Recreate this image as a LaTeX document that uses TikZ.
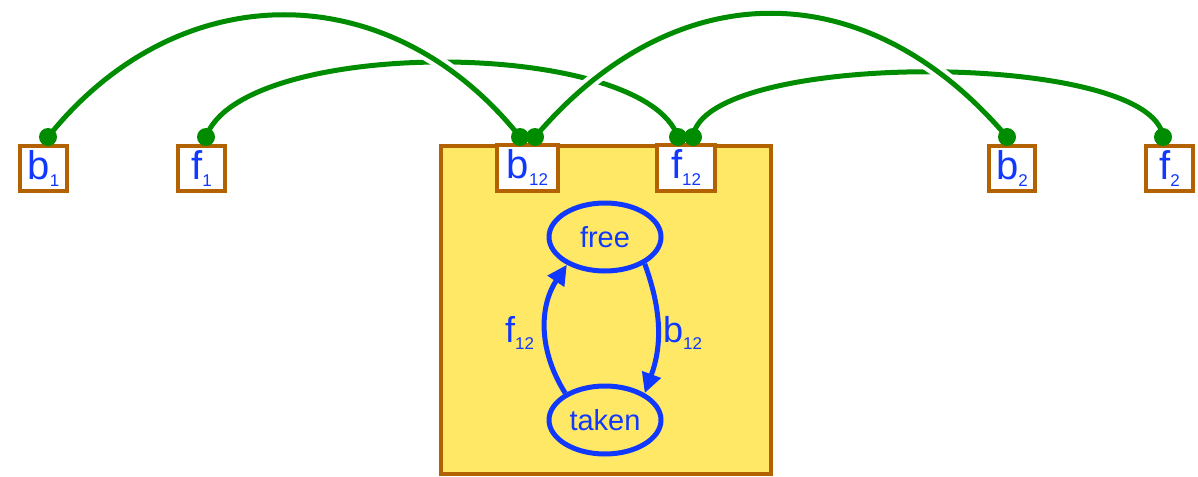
\documentclass[tikz,border=0pt]{standalone}
\usepackage{fontspec}
\setmainfont{Liberation Sans}
\usetikzlibrary{arrows.meta,shapes.geometric}
\definecolor{brn}{RGB}{178,98,0}
\definecolor{yel}{RGB}{255,232,102}
\definecolor{grn}{RGB}{0,140,0}
\definecolor{blu}{RGB}{16,56,255}
\newcommand{\mylbl}[3]{{\fontsize{#1}{#1}\selectfont #2}\raisebox{-7pt}{\fontsize{17}{17}\selectfont #3}}
\begin{document}
\begin{tikzpicture}[x=1pt,y=-1pt,
  port/.style={draw=brn, line width=4pt, fill=white, minimum height=45pt, inner sep=0pt, text=blu},
  comp/.style={draw=brn, line width=4pt, fill=yel, inner sep=0pt},
  state/.style={ellipse, draw=blu, line width=5pt, minimum width=112pt, minimum height=68pt, inner sep=0pt, text=blu, font=\fontsize{29}{29}\selectfont},
  trans/.style={draw=blu, line width=5pt, -{Triangle[length=20pt,width=19pt]}},
  farc/.style={draw=grn, line width=5pt, line cap=round},
  barc/.style={draw=grn, line width=5pt, line cap=round, preaction={draw=white, line width=13pt}},
  dotmark/.style={fill=grn}
]
\useasboundingbox[fill=white] (0,0) rectangle (1198,476);

% connection points
\coordinate (pb1) at (48,137);
\coordinate (pf1) at (206,137);
\coordinate (pb12a) at (520,137);
\coordinate (pb12b) at (535,137);
\coordinate (pf12a) at (678,137);
\coordinate (pf12b) at (693,137);
\coordinate (pb2) at (1007,137);
\coordinate (pf2) at (1163,137);

% arcs (f arcs below, b arcs above with gaps)
\draw[farc] (pf1) .. controls +(35,-100) and +(-35,-100) .. (pf12a);
\draw[farc] (pf12b) .. controls +(10,-87) and +(-10,-87) .. (pf2);
\draw[barc] (pb1) .. controls +(130,-163) and +(-130,-163) .. (pb12a);
\draw[barc] (pb12b) .. controls +(140,-165) and +(-140,-165) .. (pb2);

% component box
\node[comp, minimum width=330pt, minimum height=328pt] (cmp) at (606,310) {};

% ports
\node[port, minimum width=47pt] (b1) at (43.5,168.5) {\mylbl{40}{b}{1}};
\node[port, minimum width=47pt] (f1) at (201.5,168.5) {\mylbl{40}{f}{1}};
\node[port, minimum width=61pt, minimum height=46pt] (b12) at (527.5,168) {\mylbl{40}{b}{12}};
\node[port, minimum width=58pt, minimum height=46pt] (f12) at (686,168) {\mylbl{40}{f}{12}};
\node[port, minimum width=46pt] (b2) at (1012,168.5) {\mylbl{40}{b}{2}};
\node[port, minimum width=47pt] (f2) at (1169.5,168.5) {\mylbl{40}{f}{2}};

% dots
\foreach \p in {pb1,pf1,pb12a,pb12b,pf12a,pf12b,pb2,pf2}
  \fill[dotmark] (\p) circle[radius=9pt];

% states
\node[state] (free) at (605,237) {free};
\node[state] (taken) at (605,420) {taken};

\draw[trans] (free.-34) to[bend left=20]
  node[right=3pt, inner sep=0pt, yshift=-4pt, text=blu] {\mylbl{36}{b}{12}} (taken.34);
\draw[trans] (taken.146) to[bend left=33]
  node[left=9pt, inner sep=0pt, yshift=-4pt, text=blu] {\mylbl{36}{f}{12}} (free.216);
\end{tikzpicture}
\end{document}
